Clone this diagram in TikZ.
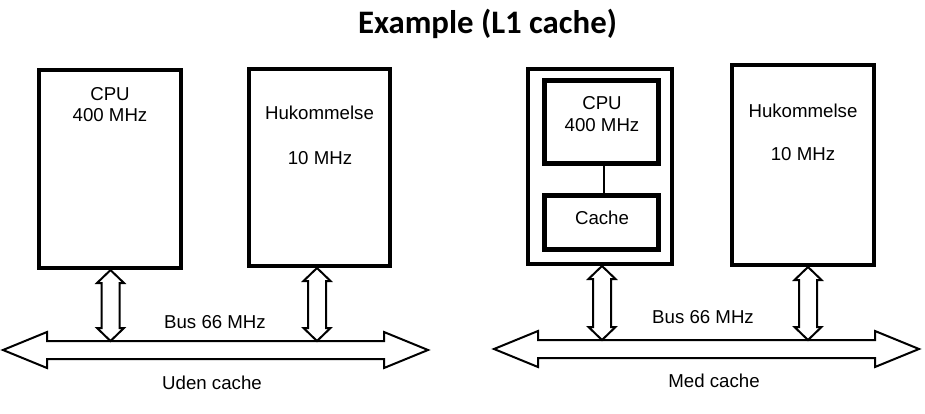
\documentclass[tikz,border=0pt]{standalone}
\usepackage{fontspec}
\setmainfont{Liberation Sans}
\newfontfamily\titlefam{Carlito}
\usetikzlibrary{calc}
\tikzset{
  box/.style 2 args={draw, line width=3pt, minimum width=#1*0.75pt, minimum height=#2*0.75pt, inner sep=0pt, fill=white},
  inbox/.style 2 args={draw, line width=3.7pt, minimum width=#1*0.75pt, minimum height=#2*0.75pt, inner sep=0pt, fill=white},
  lbl/.style={anchor=base, inner sep=0pt, font=\fontsize{14}{16}\selectfont},
  ttl/.style={anchor=base, inner sep=0pt, font=\titlefam\bfseries\fontsize{24.6}{28}\selectfont},
  arr/.style={draw, line width=1.5pt, fill=white, line join=miter},
}
\newcommand\busarrow[2]{%
  \draw[arr] (#1) -- ($(#1)+(44,-18)$) -- ($(#1)+(44,-9)$) -- ($(#2)+(-44,-9)$) -- ($(#2)+(-44,-18)$) -- (#2)
   -- ($(#2)+(-44,18)$) -- ($(#2)+(-44,9)$) -- ($(#1)+(44,9)$) -- ($(#1)+(44,18)$) -- cycle;}
\newcommand\vbiarrow[2]{%
  \draw[arr] (#1) -- ($(#1)+(13.5,13)$) -- ($(#1)+(9,13)$) -- ($(#2)+(9,-13)$) -- ($(#2)+(13.5,-13)$) -- (#2)
   -- ($(#2)+(-13.5,-13)$) -- ($(#2)+(-9,-13)$) -- ($(#1)+(-9,13)$) -- ($(#1)+(-13.5,13)$) -- cycle;}
\begin{document}
\begin{tikzpicture}[x=0.75pt,y=-0.75pt]
\useasboundingbox (0,0) rectangle (925,414);
% title
\node[ttl] (title) at (487.5,33) {Example (L1 cache)};

% ---------- left: Uden cache ----------
\node[box={142.3}{198.3}] (cpuL) at (109.9,168.9) {};
\node[lbl] (cpuLt1) at (110,100) {CPU};
\node[lbl] (cpuLt2) at (110,121) {400 MHz};
\node[box={141}{197}] (memL) at (319.5,167.5) {};
\node[lbl] (memLt1) at (319.5,119) {Hukommelse};
\node[lbl] (memLt2) at (320,164) {10 MHz};

\coordinate (busLl) at (3,350);
\coordinate (busLr) at (428,350);
\coordinate (busLtop) at (215,341);
\busarrow{busLl}{busLr}
\coordinate (a1) at ($(cpuL.south)+(0.6,0)$);
\coordinate (b1) at (a1 |- busLtop);
\vbiarrow{a1}{b1}
\coordinate (a2) at ($(memL.south)+(-2.5,0)$);
\coordinate (b2) at (a2 |- busLtop);
\vbiarrow{a2}{b2}
\node[lbl] (busLt) at (215,328) {Bus 66 MHz};
\node[lbl] (udent) at (212,389) {Uden cache};

% ---------- right: Med cache ----------
\node[box={144}{195}] (outR) at (600,166.5) {};
\node[inbox={114}{83.5}] (cpuR) at (601.5,121.8) {};
\node[lbl] (cpuRt1) at (602,109) {CPU};
\node[lbl] (cpuRt2) at (602,131) {400 MHz};
\node[inbox={114}{53.4}] (cacheR) at (601.5,222.5) {};
\node[lbl] (cacheRt) at (602,224) {Cache};
\draw[line width=1.2pt] ($(cpuR.south)+(2.5,0)$) -- ($(cacheR.north)+(2.5,0)$);
\node[box={142}{200}] (memR) at (803,165) {};
\node[lbl] (memRt1) at (803,117) {Hukommelse};
\node[lbl] (memRt2) at (803,160) {10 MHz};

\coordinate (busRl) at (494,349);
\coordinate (busRr) at (919,349);
\coordinate (busRtop) at (703,340);
\busarrow{busRl}{busRr}
\coordinate (a3) at ($(outR.south)+(2,0)$);
\coordinate (b3) at (a3 |- busRtop);
\vbiarrow{a3}{b3}
\coordinate (a4) at ($(memR.south)+(5,0)$);
\coordinate (b4) at (a4 |- busRtop);
\vbiarrow{a4}{b4}
\node[lbl] (busRt) at (703,323) {Bus 66 MHz};
\node[lbl] (medt) at (714,387) {Med cache};
\end{tikzpicture}
\end{document}
